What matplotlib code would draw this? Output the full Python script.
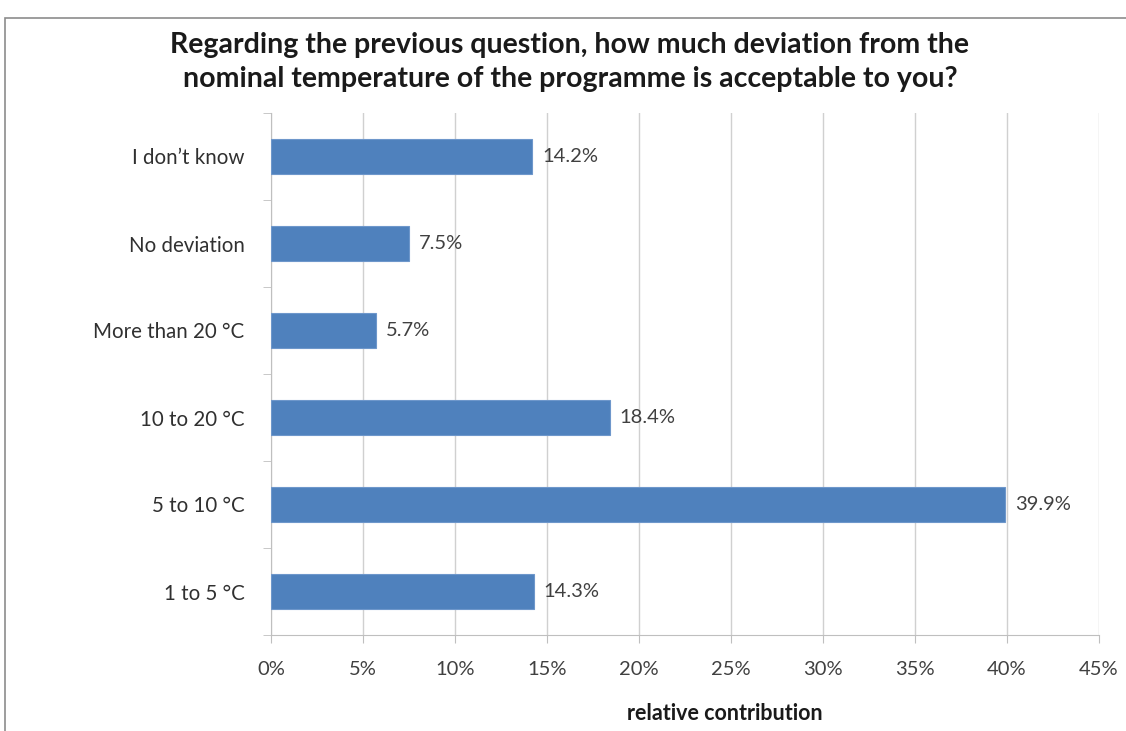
import numpy as np
import matplotlib.pyplot as plt
from matplotlib.patches import Rectangle
from matplotlib.ticker import FuncFormatter

categories = ['1 to 5 °C', '5 to 10 °C', '10 to 20 °C', 'More than 20 °C',
              'No deviation', 'I don\u2019t know']
values = [14.3, 39.9, 18.4, 5.7, 7.5, 14.2]
xticks = [0, 5, 10, 15, 20, 25, 30, 35, 40, 45]

plt.rcParams['font.family'] = ['Lato', 'DejaVu Sans']
W, H = 1126, 731
fig = plt.figure(figsize=(W / 100, H / 100), dpi=100)
ax = fig.add_axes([271 / W, 1 - 635 / H, (1099 - 271) / W, (635 - 113) / H])

y = np.arange(len(categories))
ax.barh(y, values, height=0.4, color='#4F81BD', edgecolor='#6E97CB',
        linewidth=0.8, zorder=3)
for yi, v in zip(y, values):
    ax.annotate('%.1f%%' % v, (v, yi), xytext=(7, 0), textcoords='offset points',
                va='center', ha='left', fontsize=14.5, color='#404040')

ax.set_xlim(0, 45)
ax.set_ylim(-0.5, len(categories) - 0.5)
ax.set_xticks(xticks)
ax.xaxis.set_major_formatter(FuncFormatter(lambda v, p: '%d%%' % v))
ax.set_yticks(y)
ax.set_yticklabels(categories)
ax.set_yticks(np.arange(-0.5, len(categories), 1), minor=True)
ax.tick_params(axis='y', which='major', length=0, pad=19, labelsize=14.8,
               colors='#303030')
ax.tick_params(axis='y', which='minor', length=6, color='#BFBFBF', direction='out')
ax.tick_params(axis='x', length=6, color='#BFBFBF', labelsize=14.5, colors='#404040',
               pad=13)
ax.grid(axis='x', color='#D0D0D0', linewidth=1, zorder=0)
for s in ['top', 'right']:
    ax.spines[s].set_visible(False)
for s in ['left', 'bottom']:
    ax.spines[s].set_color('#BFBFBF')

fig.text(570 / W, 1 - 45 / H,
         'Regarding the previous question, how much deviation from the',
         ha='center', va='center', fontsize=20.5, fontweight='bold', color='#1a1a1a')
fig.text(570 / W, 1 - 79 / H,
         'nominal temperature of the programme is acceptable to you?',
         ha='center', va='center', fontsize=20.5, fontweight='bold', color='#1a1a1a')
fig.text(725 / W, 1 - 713 / H, 'relative contribution', ha='center', va='center',
         fontsize=15.5, fontweight='bold', color='#1a1a1a')

fig.patches.append(Rectangle((5 / W, -0.1), 1.2, 1 - 18 / H + 0.1,
                             transform=fig.transFigure, fill=False,
                             edgecolor='#8C8C8C', linewidth=1.2))

fig.savefig('out.png', dpi=100)
